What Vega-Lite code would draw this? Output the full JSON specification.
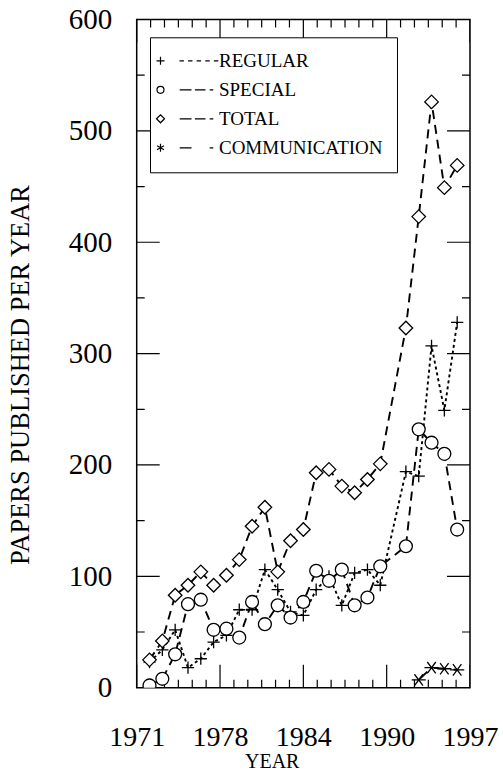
{
  "$schema": "https://vega.github.io/schema/vega-lite/v6.json",
  "width": 333.3,
  "height": 668.2,
  "autosize": {"type": "none"},
  "padding": {"left": 136.7, "top": 19.5, "right": 33, "bottom": 87},
  "background": "white",
  "config": {
    "view": {"stroke": "black", "strokeWidth": 1.5},
    "font": "Liberation Serif",
    "axis": {
      "domain": false,
      "ticks": false,
      "grid": false,
      "labelFont": "Liberation Serif",
      "titleFont": "Liberation Serif",
      "labelColor": "black",
      "titleColor": "black",
      "labelFontSize": 28,
      "titleFontWeight": "normal",
      "labelFlush": false,
      "labelOverlap": false
    }
  },
  "datasets": {
    "xMajor": [{"t": 1971}, {"t": 1977.5}, {"t": 1984}, {"t": 1990.5}, {"t": 1997}],
    "xMinor": [{"t": 1972.0833}, {"t": 1973.1667}, {"t": 1974.25}, {"t": 1975.3333}, {"t": 1976.4167}, {"t": 1978.5833}, {"t": 1979.6667}, {"t": 1980.75}, {"t": 1981.8333}, {"t": 1982.9167}, {"t": 1985.0833}, {"t": 1986.1667}, {"t": 1987.25}, {"t": 1988.3333}, {"t": 1989.4167}, {"t": 1991.5833}, {"t": 1992.6667}, {"t": 1993.75}, {"t": 1994.8333}, {"t": 1995.9167}],
    "yMajor": [{"v": 100}, {"v": 200}, {"v": 300}, {"v": 400}, {"v": 500}],
    "yMinor": [{"v": 50}, {"v": 150}, {"v": 250}, {"v": 350}, {"v": 450}, {"v": 550}],
    "papers": [
      {"year": 1972, "series": "REGULAR", "value": 23},
      {"year": 1973, "series": "REGULAR", "value": 34},
      {"year": 1974, "series": "REGULAR", "value": 52},
      {"year": 1975, "series": "REGULAR", "value": 18},
      {"year": 1976, "series": "REGULAR", "value": 26},
      {"year": 1977, "series": "REGULAR", "value": 41},
      {"year": 1978, "series": "REGULAR", "value": 47},
      {"year": 1979, "series": "REGULAR", "value": 70},
      {"year": 1980, "series": "REGULAR", "value": 70},
      {"year": 1981, "series": "REGULAR", "value": 106},
      {"year": 1982, "series": "REGULAR", "value": 88},
      {"year": 1983, "series": "REGULAR", "value": 68},
      {"year": 1984, "series": "REGULAR", "value": 65},
      {"year": 1985, "series": "REGULAR", "value": 88},
      {"year": 1986, "series": "REGULAR", "value": 100},
      {"year": 1987, "series": "REGULAR", "value": 74},
      {"year": 1988, "series": "REGULAR", "value": 103},
      {"year": 1989, "series": "REGULAR", "value": 106},
      {"year": 1990, "series": "REGULAR", "value": 92},
      {"year": 1992, "series": "REGULAR", "value": 194},
      {"year": 1993, "series": "REGULAR", "value": 190},
      {"year": 1994, "series": "REGULAR", "value": 307},
      {"year": 1995, "series": "REGULAR", "value": 249},
      {"year": 1996, "series": "REGULAR", "value": 328},
      {"year": 1972, "series": "SPECIAL", "value": 2},
      {"year": 1973, "series": "SPECIAL", "value": 8},
      {"year": 1974, "series": "SPECIAL", "value": 30},
      {"year": 1975, "series": "SPECIAL", "value": 75},
      {"year": 1976, "series": "SPECIAL", "value": 79},
      {"year": 1977, "series": "SPECIAL", "value": 52},
      {"year": 1978, "series": "SPECIAL", "value": 53},
      {"year": 1979, "series": "SPECIAL", "value": 45},
      {"year": 1980, "series": "SPECIAL", "value": 77},
      {"year": 1981, "series": "SPECIAL", "value": 57},
      {"year": 1982, "series": "SPECIAL", "value": 74},
      {"year": 1983, "series": "SPECIAL", "value": 63},
      {"year": 1984, "series": "SPECIAL", "value": 77},
      {"year": 1985, "series": "SPECIAL", "value": 105},
      {"year": 1986, "series": "SPECIAL", "value": 96},
      {"year": 1987, "series": "SPECIAL", "value": 106},
      {"year": 1988, "series": "SPECIAL", "value": 74},
      {"year": 1989, "series": "SPECIAL", "value": 81},
      {"year": 1990, "series": "SPECIAL", "value": 109},
      {"year": 1992, "series": "SPECIAL", "value": 127},
      {"year": 1993, "series": "SPECIAL", "value": 232},
      {"year": 1994, "series": "SPECIAL", "value": 220},
      {"year": 1995, "series": "SPECIAL", "value": 210},
      {"year": 1996, "series": "SPECIAL", "value": 142},
      {"year": 1972, "series": "TOTAL", "value": 25},
      {"year": 1973, "series": "TOTAL", "value": 42},
      {"year": 1974, "series": "TOTAL", "value": 83},
      {"year": 1975, "series": "TOTAL", "value": 92},
      {"year": 1976, "series": "TOTAL", "value": 104},
      {"year": 1977, "series": "TOTAL", "value": 92},
      {"year": 1978, "series": "TOTAL", "value": 101},
      {"year": 1979, "series": "TOTAL", "value": 115},
      {"year": 1980, "series": "TOTAL", "value": 145},
      {"year": 1981, "series": "TOTAL", "value": 162},
      {"year": 1982, "series": "TOTAL", "value": 104},
      {"year": 1983, "series": "TOTAL", "value": 132},
      {"year": 1984, "series": "TOTAL", "value": 142},
      {"year": 1985, "series": "TOTAL", "value": 193},
      {"year": 1986, "series": "TOTAL", "value": 196},
      {"year": 1987, "series": "TOTAL", "value": 181},
      {"year": 1988, "series": "TOTAL", "value": 175},
      {"year": 1989, "series": "TOTAL", "value": 187},
      {"year": 1990, "series": "TOTAL", "value": 201},
      {"year": 1992, "series": "TOTAL", "value": 323},
      {"year": 1993, "series": "TOTAL", "value": 423},
      {"year": 1994, "series": "TOTAL", "value": 526},
      {"year": 1995, "series": "TOTAL", "value": 449},
      {"year": 1996, "series": "TOTAL", "value": 469},
      {"year": 1993, "series": "COMMUNICATION", "value": 7},
      {"year": 1994, "series": "COMMUNICATION", "value": 18},
      {"year": 1995, "series": "COMMUNICATION", "value": 17},
      {"year": 1996, "series": "COMMUNICATION", "value": 16}
    ]
  },
  "layer": [
    {
      "data": {"name": "papers"},
      "mark": {"type": "line", "color": "black", "strokeWidth": 1.9, "clip": true},
      "encoding": {
        "x": {
          "field": "year", "type": "quantitative",
          "scale": {"domain": [1971, 1997], "nice": false, "zero": false},
          "axis": {
            "orient": "bottom",
            "values": [1971, 1977.5, 1984, 1990.5, 1997],
            "labelExpr": "datum.value == 1990.5 ? '1990' : format(round(datum.value), 'd')",
            "labelPadding": 36,
            "labelFont": "Liberation Serif",
            "labelFontSize": 28,
            "title": "YEAR",
            "titleFont": "Liberation Serif",
            "titleFontSize": 20,
            "titleX": 135,
            "titleY": 74,
            "titleAlign": "center",
            "titleBaseline": "middle"
          }
        },
        "y": {
          "field": "value", "type": "quantitative",
          "scale": {"domain": [0, 600], "nice": false},
          "axis": {
            "orient": "left",
            "values": [0, 100, 200, 300, 400, 500, 600],
            "labelExpr": "format(datum.value, 'd')",
            "labelPadding": 25,
            "labelFont": "Liberation Serif",
            "labelFontSize": 29,
            "title": "PAPERS PUBLISHED PER YEAR",
            "titleFont": "Liberation Serif",
            "titleFontSize": 26.5,
            "titleAngle": -90,
            "titleX": -116,
            "titleY": 355,
            "titleAlign": "center",
            "titleBaseline": "middle"
          }
        },
        "strokeDash": {
          "field": "series", "type": "nominal",
          "scale": {"domain": ["REGULAR", "SPECIAL", "TOTAL", "COMMUNICATION"], "range": [[3, 3], [9, 6], [9, 6], [12, 8]]},
          "legend": null
        }
      }
    },
    {
      "data": {"name": "xMajor"},
      "mark": {"type": "tick", "orient": "vertical", "size": 46, "thickness": 1.2, "color": "black", "opacity": 1, "clip": true},
      "encoding": {
        "x": {"field": "t", "type": "quantitative"},
        "y": {"datum": 0, "type": "quantitative"}
      }
    },
    {
      "data": {"name": "xMajor"},
      "mark": {"type": "tick", "orient": "vertical", "size": 46, "thickness": 1.2, "color": "black", "opacity": 1, "clip": true},
      "encoding": {
        "x": {"field": "t", "type": "quantitative"},
        "y": {"datum": 600, "type": "quantitative"}
      }
    },
    {
      "data": {"name": "xMinor"},
      "mark": {"type": "tick", "orient": "vertical", "size": 16, "thickness": 1.2, "color": "black", "opacity": 1, "clip": true},
      "encoding": {
        "x": {"field": "t", "type": "quantitative"},
        "y": {"datum": 0, "type": "quantitative"}
      }
    },
    {
      "data": {"name": "xMinor"},
      "mark": {"type": "tick", "orient": "vertical", "size": 16, "thickness": 1.2, "color": "black", "opacity": 1, "clip": true},
      "encoding": {
        "x": {"field": "t", "type": "quantitative"},
        "y": {"datum": 600, "type": "quantitative"}
      }
    },
    {
      "data": {"name": "yMajor"},
      "mark": {"type": "tick", "orient": "horizontal", "size": 46, "thickness": 1.2, "color": "black", "opacity": 1, "clip": true},
      "encoding": {
        "y": {"field": "v", "type": "quantitative"},
        "x": {"datum": 1971, "type": "quantitative"}
      }
    },
    {
      "data": {"name": "yMajor"},
      "mark": {"type": "tick", "orient": "horizontal", "size": 46, "thickness": 1.2, "color": "black", "opacity": 1, "clip": true},
      "encoding": {
        "y": {"field": "v", "type": "quantitative"},
        "x": {"datum": 1997, "type": "quantitative"}
      }
    },
    {
      "data": {"name": "yMinor"},
      "mark": {"type": "tick", "orient": "horizontal", "size": 16, "thickness": 1.2, "color": "black", "opacity": 1, "clip": true},
      "encoding": {
        "y": {"field": "v", "type": "quantitative"},
        "x": {"datum": 1971, "type": "quantitative"}
      }
    },
    {
      "data": {"name": "yMinor"},
      "mark": {"type": "tick", "orient": "horizontal", "size": 16, "thickness": 1.2, "color": "black", "opacity": 1, "clip": true},
      "encoding": {
        "y": {"field": "v", "type": "quantitative"},
        "x": {"datum": 1997, "type": "quantitative"}
      }
    },
    {
      "data": {"name": "papers"},
      "mark": {"type": "point", "fill": "white", "stroke": "black", "strokeWidth": 1.3, "opacity": 1, "clip": true},
      "encoding": {
        "x": {"field": "year", "type": "quantitative"},
        "y": {"field": "value", "type": "quantitative"},
        "shape": {
          "field": "series", "type": "nominal",
          "scale": {"domain": ["REGULAR", "SPECIAL", "TOTAL", "COMMUNICATION"], "range": ["M-1,0H1M0,-1V1", "circle", "diamond", "M-1,0H1M-0.6,-0.8L0.6,0.8M-0.6,0.8L0.6,-0.8"]},
          "legend": null
        },
        "size": {
          "field": "series", "type": "nominal",
          "scale": {"domain": ["REGULAR", "SPECIAL", "TOTAL", "COMMUNICATION"], "range": [150, 200, 225, 150]},
          "legend": null
        }
      }
    },
    {
      "data": {"name": "papers"},
      "mark": {"type": "point", "opacity": 0},
      "encoding": {
        "x": {"field": "year", "type": "quantitative"},
        "y": {"field": "value", "type": "quantitative"},
        "shape": {
          "field": "series", "type": "nominal",
          "scale": {
            "domain": ["REGULAR", "SPECIAL", "TOTAL", "COMMUNICATION"],
            "range": [
              "M-4.25,0H-2.25M-3.25,-1V1M1.5,0H2.6M3.65,0H4.75M5.8,0H6.9M7.95,0H9.05M10.1,0H11.2",
              "M-2.375,0A0.875,0.875,0,1,1,-4.125,0A0.875,0.875,0,1,1,-2.375,0M1.55,0H4.5M5.35,0H8M9.05,0H9.95",
              "M-4.25,0L-3.25,-1L-2.25,0L-3.25,1ZM1.55,0H4.5M5.35,0H8M9.05,0H9.95",
              "M-3.25,-1V1M-4.12,-0.5L-2.38,0.5M-4.12,0.5L-2.38,-0.5M1.55,0H4.5M9.05,0H9.95"
            ]
          },
          "legend": {
            "orient": "none",
            "legendX": 13.3,
            "legendY": 17.8,
            "title": null,
            "padding": 14,
            "strokeColor": "black",
            "fillColor": "white",
            "labelFont": "Liberation Serif",
            "labelFontSize": 19,
            "labelColor": "black",
            "labelOffset": 36,
            "rowPadding": 9,
            "symbolSize": 64,
            "symbolStrokeWidth": 1.2,
            "symbolStrokeColor": "black",
            "symbolFillColor": "transparent",
            "symbolOpacity": 1,
            "labelLimit": 0
          }
        }
      }
    }
  ],
  "resolve": {"scale": {"shape": "independent"}}
}
